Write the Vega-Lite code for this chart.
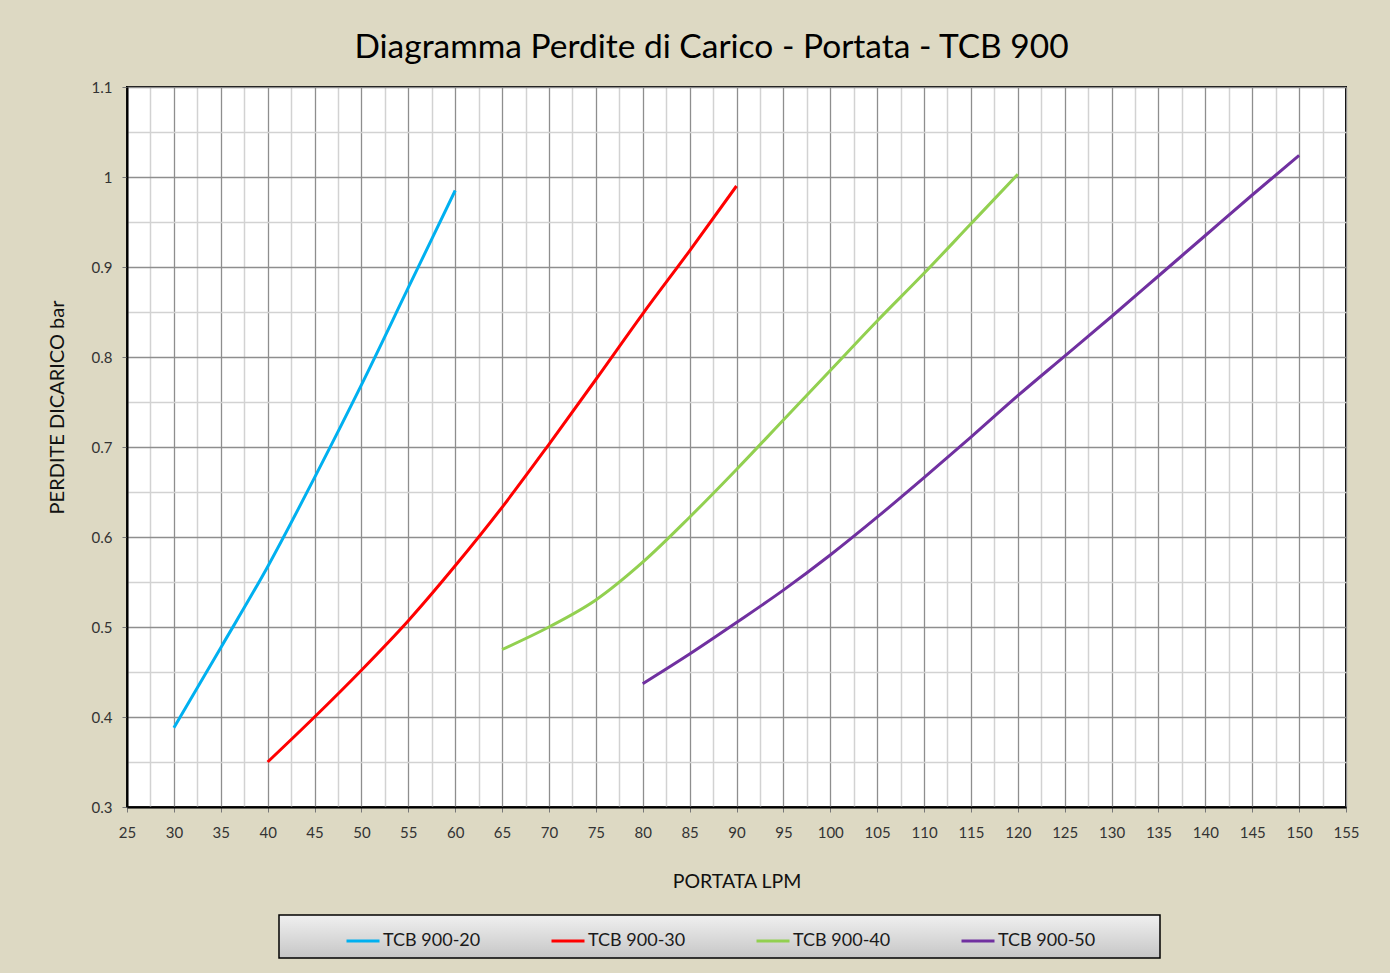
{
  "$schema": "https://vega.github.io/schema/vega-lite/v6.json",
  "width": 1219,
  "height": 720,
  "autosize": "none",
  "padding": {"left": 127, "top": 87, "right": 44, "bottom": 166},
  "background": "#DDD9C3",
  "config": {
    "font": "Lato",
    "view": {"fill": "white", "stroke": "black", "strokeWidth": 2},
    "axis": {"labelFont": "Lato", "titleFont": "Lato"}
  },
  "title": {
    "text": "Diagramma Perdite di Carico - Portata - TCB 900",
    "fontSize": 33.5,
    "fontWeight": "normal",
    "color": "black",
    "anchor": "middle",
    "offset": 15,
    "dx": -25
  },
  "data": {
    "values": [
      {"serie": "TCB 900-20", "portata": 30, "perdite": 0.388},
      {"serie": "TCB 900-20", "portata": 35, "perdite": 0.477},
      {"serie": "TCB 900-20", "portata": 40, "perdite": 0.567},
      {"serie": "TCB 900-20", "portata": 45, "perdite": 0.666},
      {"serie": "TCB 900-20", "portata": 50, "perdite": 0.769},
      {"serie": "TCB 900-20", "portata": 55, "perdite": 0.877},
      {"serie": "TCB 900-20", "portata": 60, "perdite": 0.985},
      {"serie": "TCB 900-30", "portata": 40, "perdite": 0.35},
      {"serie": "TCB 900-30", "portata": 45, "perdite": 0.40},
      {"serie": "TCB 900-30", "portata": 50, "perdite": 0.452},
      {"serie": "TCB 900-30", "portata": 55, "perdite": 0.507},
      {"serie": "TCB 900-30", "portata": 60, "perdite": 0.568},
      {"serie": "TCB 900-30", "portata": 65, "perdite": 0.633},
      {"serie": "TCB 900-30", "portata": 70, "perdite": 0.703},
      {"serie": "TCB 900-30", "portata": 75, "perdite": 0.775},
      {"serie": "TCB 900-30", "portata": 80, "perdite": 0.848},
      {"serie": "TCB 900-30", "portata": 85, "perdite": 0.918},
      {"serie": "TCB 900-30", "portata": 90, "perdite": 0.99},
      {"serie": "TCB 900-40", "portata": 65, "perdite": 0.475},
      {"serie": "TCB 900-40", "portata": 70, "perdite": 0.50},
      {"serie": "TCB 900-40", "portata": 75, "perdite": 0.53},
      {"serie": "TCB 900-40", "portata": 80, "perdite": 0.572},
      {"serie": "TCB 900-40", "portata": 85, "perdite": 0.622},
      {"serie": "TCB 900-40", "portata": 90, "perdite": 0.675},
      {"serie": "TCB 900-40", "portata": 95, "perdite": 0.73},
      {"serie": "TCB 900-40", "portata": 100, "perdite": 0.785},
      {"serie": "TCB 900-40", "portata": 105, "perdite": 0.84},
      {"serie": "TCB 900-40", "portata": 110, "perdite": 0.893},
      {"serie": "TCB 900-40", "portata": 115, "perdite": 0.948},
      {"serie": "TCB 900-40", "portata": 120, "perdite": 1.003},
      {"serie": "TCB 900-50", "portata": 80, "perdite": 0.437},
      {"serie": "TCB 900-50", "portata": 85, "perdite": 0.47},
      {"serie": "TCB 900-50", "portata": 90, "perdite": 0.505},
      {"serie": "TCB 900-50", "portata": 95, "perdite": 0.541},
      {"serie": "TCB 900-50", "portata": 100, "perdite": 0.58},
      {"serie": "TCB 900-50", "portata": 105, "perdite": 0.622},
      {"serie": "TCB 900-50", "portata": 110, "perdite": 0.666},
      {"serie": "TCB 900-50", "portata": 115, "perdite": 0.711},
      {"serie": "TCB 900-50", "portata": 120, "perdite": 0.757},
      {"serie": "TCB 900-50", "portata": 125, "perdite": 0.801},
      {"serie": "TCB 900-50", "portata": 130, "perdite": 0.845},
      {"serie": "TCB 900-50", "portata": 135, "perdite": 0.89},
      {"serie": "TCB 900-50", "portata": 140, "perdite": 0.935},
      {"serie": "TCB 900-50", "portata": 145, "perdite": 0.98},
      {"serie": "TCB 900-50", "portata": 150, "perdite": 1.024}
    ]
  },
  "resolve": {"axis": {"x": "independent", "y": "independent"}},
  "layer": [
    {
      "mark": {"type": "line", "strokeOpacity": 0},
      "encoding": {
        "x": {
          "field": "portata", "type": "quantitative",
          "scale": {"domain": [25, 155], "nice": false, "zero": false},
          "axis": {
            "orient": "top", "title": null, "labels": false, "ticks": false, "domain": false,
            "grid": true, "gridColor": "#D2D2D2", "gridWidth": 1.5, "gridOpacity": 1,
            "values": [27.5, 32.5, 37.5, 42.5, 47.5, 52.5, 57.5, 62.5, 67.5, 72.5, 77.5, 82.5, 87.5, 92.5, 97.5, 102.5, 107.5, 112.5, 117.5, 122.5, 127.5, 132.5, 137.5, 142.5, 147.5, 152.5]
          }
        },
        "y": {
          "field": "perdite", "type": "quantitative",
          "scale": {"domain": [0.3, 1.1], "nice": false, "zero": false},
          "axis": {
            "orient": "right", "title": null, "labels": false, "ticks": false, "domain": false,
            "grid": true, "gridColor": "#D2D2D2", "gridWidth": 1.5, "gridOpacity": 1,
            "values": [0.35, 0.45, 0.55, 0.65, 0.75, 0.85, 0.95, 1.05]
          }
        },
        "detail": {"field": "serie"}
      }
    },
    {
      "mark": {"type": "line", "interpolate": "monotone", "strokeWidth": 3},
      "encoding": {
        "x": {
          "field": "portata", "type": "quantitative",
          "scale": {"domain": [25, 155], "nice": false, "zero": false},
          "axis": {
            "orient": "bottom", "title": "PORTATA LPM",
            "titleFontSize": 19.5, "titleFontWeight": "normal", "titleColor": "#111", "titlePadding": 32,
            "labelFontSize": 15, "labelColor": "#333", "labelPadding": 13, "labelFlush": false,
            "ticks": true, "tickColor": "#777", "tickSize": 5,
            "domain": true, "domainColor": "black", "domainWidth": 2,
            "grid": true, "gridColor": "#8E8E8E", "gridWidth": 1.3, "gridOpacity": 1,
            "values": [25, 30, 35, 40, 45, 50, 55, 60, 65, 70, 75, 80, 85, 90, 95, 100, 105, 110, 115, 120, 125, 130, 135, 140, 145, 150, 155]
          }
        },
        "y": {
          "field": "perdite", "type": "quantitative",
          "scale": {"domain": [0.3, 1.1], "nice": false, "zero": false},
          "axis": {
            "orient": "left", "title": "PERDITE DICARICO bar",
            "titleFontSize": 20, "titleFontWeight": "normal", "titleColor": "#111", "titlePadding": 24,
            "titleY": 320,
            "format": ".1~f",
            "labelFontSize": 15, "labelColor": "#333", "labelPadding": 10, "labelFlush": false,
            "ticks": true, "tickColor": "#777", "tickSize": 5,
            "domain": true, "domainColor": "black", "domainWidth": 2,
            "grid": true, "gridColor": "#8E8E8E", "gridWidth": 1.3, "gridOpacity": 1,
            "values": [0.3, 0.4, 0.5, 0.6, 0.7, 0.8, 0.9, 1.0, 1.1]
          }
        },
        "color": {
          "field": "serie", "type": "nominal",
          "scale": {
            "domain": ["TCB 900-20", "TCB 900-30", "TCB 900-40", "TCB 900-50"],
            "range": ["#00B0F0", "#FF0000", "#92D050", "#7030A0"]
          },
          "legend": {
            "title": " ",
            "titleOrient": "right",
            "titleFontSize": 2,
            "titlePadding": 57,
            "orient": "none",
            "legendX": 152,
            "legendY": 828,
            "direction": "horizontal",
            "columns": 4,
            "gridAlign": "all",
            "columnPadding": 11,
            "padding": 8,
            "fillColor": "#DEDEDE",
            "strokeColor": "black",
            "symbolType": "stroke",
            "symbolSize": 1089,
            "symbolStrokeWidth": 3,
            "symbolOffset": 58,
            "labelOffset": 2,
            "labelFontSize": 18,
            "labelColor": "#1a1a1a",
            "labelFont": "Lato",
            "encode": {
              "legend": {
                "update": {
                  "fill": {"value": {"gradient": "linear", "x1": 0, "y1": 0, "x2": 0, "y2": 1, "stops": [{"offset": 0, "color": "#F0F0F0"}, {"offset": 1, "color": "#C6C6C6"}]}},
                  "strokeWidth": {"value": 1.5}
                }
              }
            }
          }
        }
      }
    }
  ]
}
